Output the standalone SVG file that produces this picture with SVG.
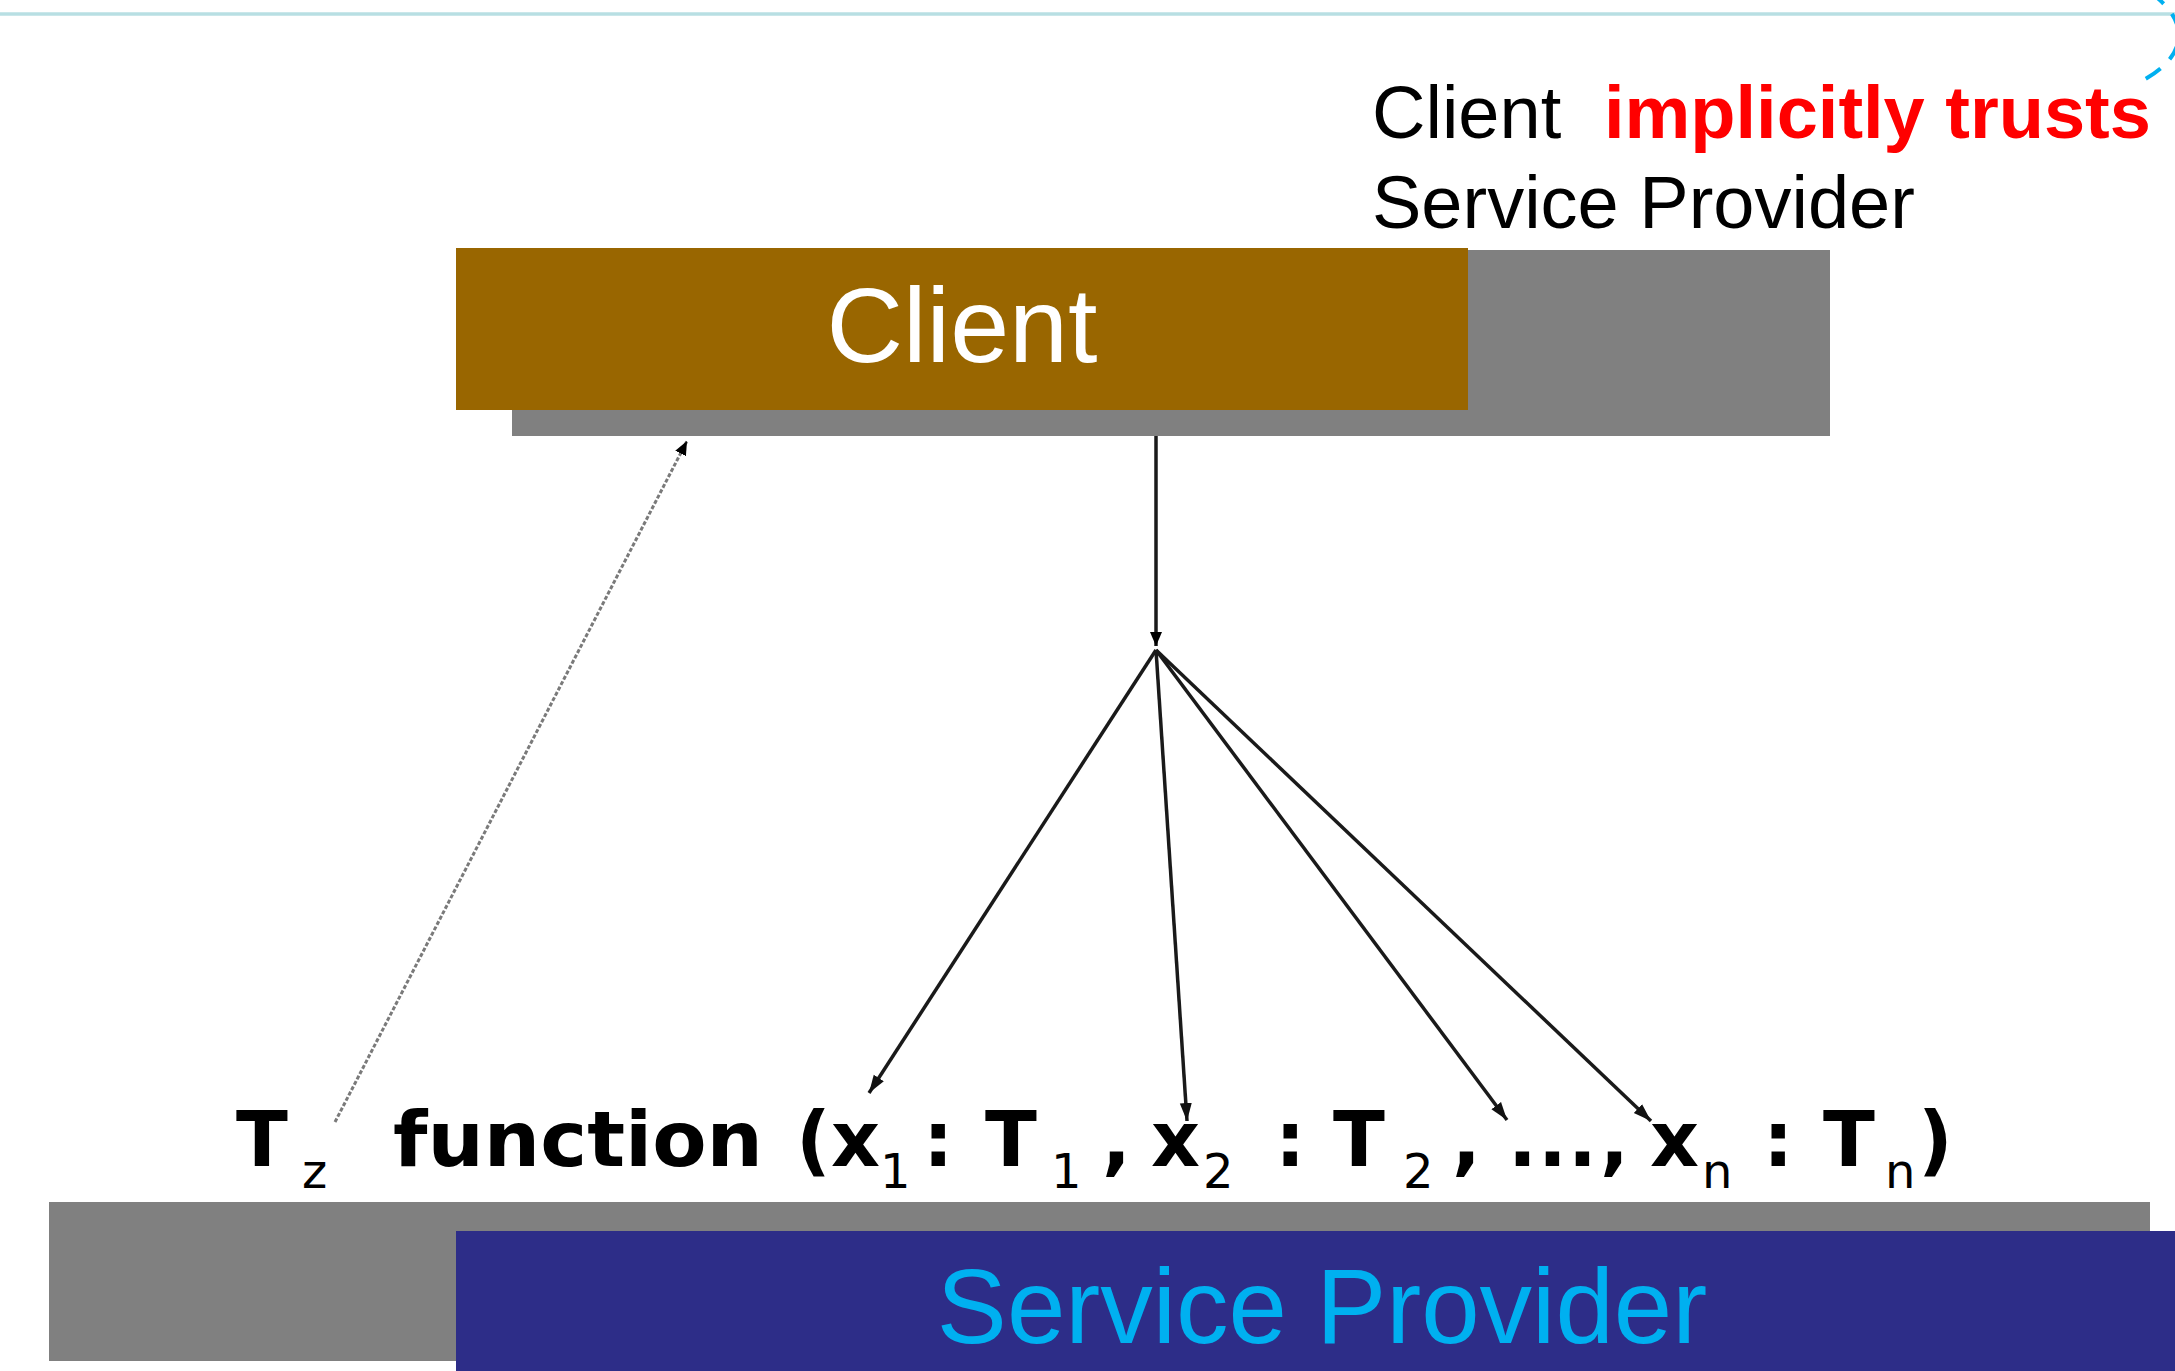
<svg xmlns="http://www.w3.org/2000/svg" width="2175" height="1371" viewBox="0 0 2175 1371">
  <style>
    .note { font-family: "Liberation Sans", Arial, sans-serif; font-size: 74px; fill: #000000; }
    .trust { font-family: "Liberation Sans", Arial, sans-serif; font-size: 74px; font-weight: bold; fill: #ff0000; }
    .label { font-family: "Liberation Sans", Arial, sans-serif; text-anchor: middle; }
    .sig { font-family: "DejaVu Sans", Verdana, sans-serif; font-size: 76px; font-weight: bold; fill: #000000; }
    .sub { font-family: "DejaVu Sans", Verdana, sans-serif; font-size: 48px; font-weight: normal; fill: #000000; }
    .link { fill: none; stroke: #1a1a1a; stroke-width: 3.5; }
    .ret { fill: none; stroke: #7a7a7a; stroke-width: 3; stroke-dasharray: 4 2; }
  </style>
  <defs>
    <marker id="head" markerUnits="userSpaceOnUse" markerWidth="20" markerHeight="14" refX="18" refY="7" orient="auto">
      <path d="M0,1 L18,7 L0,13 z" fill="#111111"/>
    </marker>
    <marker id="head-small" markerUnits="userSpaceOnUse" markerWidth="16" markerHeight="14" refX="14" refY="7" orient="auto">
      <path d="M0,1 L14,7 L0,13 z" fill="#000000"/>
    </marker>
  </defs>

  <rect width="2175" height="1371" fill="#ffffff"/>

  <!-- header rule and dashed callout arc -->
  <line x1="0" y1="14" x2="2175" y2="14" stroke="#b8dfe3" stroke-width="3.5"/>
  <path d="M2150,-8 C2195,25 2185,60 2136,84" fill="none" stroke="#00b0f0" stroke-width="4" stroke-dasharray="18 13"/>

  <!-- trust statement -->
  <g id="trust-note">
    <text class="note" x="1372" y="138">Client</text>
    <text class="trust" x="1604" y="138">implicitly trusts</text>
    <text class="note" x="1372" y="228">Service Provider</text>
  </g>

  <!-- client node -->
  <g id="client">
    <rect x="512" y="250" width="1318" height="186" fill="#808080"/>
    <rect x="456" y="248" width="1012" height="162" fill="#996600"/>
    <text class="label" x="962" y="362" font-size="106" fill="#ffffff">Client</text>
  </g>

  <!-- service provider node -->
  <g id="service-provider">
    <rect x="49" y="1202" width="2101" height="159" fill="#808080"/>
    <rect x="456" y="1231" width="1719" height="140" fill="#2d2d88"/>
    <text class="label" x="1322" y="1343" font-size="105" fill="#00b0f0">Service Provider</text>
  </g>

  <!-- function signature -->
  <g id="signature">
    <text class="sig" y="1166">
      <tspan x="236">T</tspan>
      <tspan x="393" textLength="370" lengthAdjust="spacingAndGlyphs">function</tspan>
      <tspan x="796">(</tspan>
      <tspan x="831">x</tspan>
      <tspan x="923">:</tspan>
      <tspan x="985">T</tspan>
      <tspan x="1102">,</tspan>
      <tspan x="1151">x</tspan>
      <tspan x="1275">:</tspan>
      <tspan x="1333">T</tspan>
      <tspan x="1452">,</tspan>
      <tspan x="1508">.</tspan>
      <tspan x="1538">.</tspan>
      <tspan x="1568">.</tspan>
      <tspan x="1600">,</tspan>
      <tspan x="1650">x</tspan>
      <tspan x="1763">:</tspan>
      <tspan x="1823">T</tspan>
      <tspan x="1918">)</tspan>
    </text>
    <text class="sub" y="1188">
      <tspan x="302">z</tspan>
      <tspan x="880">1</tspan>
      <tspan x="1051">1</tspan>
      <tspan x="1203">2</tspan>
      <tspan x="1403">2</tspan>
      <tspan x="1702">n</tspan>
      <tspan x="1885">n</tspan>
    </text>
  </g>

  <!-- connectors -->
  <g id="connectors">
    <line class="link" x1="1156" y1="436" x2="1156" y2="646" marker-end="url(#head-small)"/>
    <line class="link" x1="1156" y1="650" x2="869" y2="1093" marker-end="url(#head)"/>
    <line class="link" x1="1156" y1="650" x2="1187" y2="1121" marker-end="url(#head)"/>
    <line class="link" x1="1156" y1="650" x2="1507" y2="1120" marker-end="url(#head)"/>
    <line class="link" x1="1156" y1="650" x2="1651" y2="1121" marker-end="url(#head)"/>
    <line class="ret" x1="335" y1="1122" x2="687" y2="441" marker-end="url(#head-small)"/>
  </g>
</svg>
